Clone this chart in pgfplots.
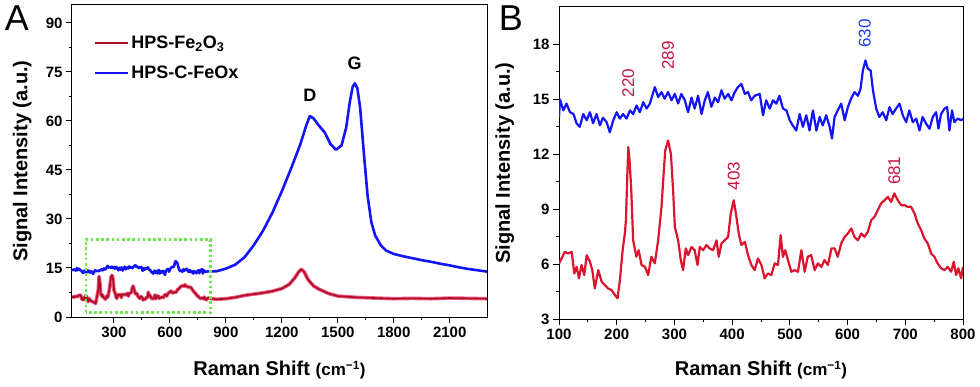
\documentclass[border=0pt]{standalone}
\usepackage{fontspec}
\setmainfont{Liberation Sans}
\usepackage{pgfplots}
\pgfplotsset{compat=1.18}
\usepackage{pgfplotstable}

\definecolor{cblue}{RGB}{20,20,250}
\definecolor{cred}{RGB}{175,15,40}
\definecolor{chalo}{RGB}{240,90,130}
\definecolor{bred}{RGB}{220,20,45}
\definecolor{lblred}{RGB}{200,20,60}
\definecolor{lblblue}{RGB}{30,60,240}
\definecolor{cgreen}{RGB}{110,230,80}

% panel B data (also used for 100-800 in panel A)
\pgfplotstableread{
x y
100 6.04
101.7 6.13
110 6.67
116 6.58
122 6.67
126.5 5.49
130.6 5.85
134.6 5.22
139 5.95
143.8 5.4
148 6.49
153.6 6.13
157.7 5.67
162 4.67
168 5.67
174 5.03
179.6 4.85
185 4.67
191 4.58
197 4.31
201.5 4.13
205.5 5.13
210 6.67
214 7.67
216 8.4
218 10.5
220 12.4
222 11.8
225 10.2
228.5 7.3
234 6.4
238 6.76
243 5.95
249 5.85
254.5 5.4
260 6.4
266 6.04
271.8 7.3
277.6 9.13
281 10.8
284 12.2
289 12.76
294 12.0
298 9.85
300.7 8.03
306.4 7.3
311 6.22
315 5.67
319.7 6.86
323.7 6.49
329.6 6.94
335 6.76
340 5.95
344 6.94
349.7 6.76
355.5 7.04
361 6.86
367 6.76
373 7.3
376.8 6.4
381.5 7.13
387 7.3
393 7.49
397.6 8.77
402.8 9.49
407.4 8.58
411.4 7.67
416 7.04
422 7.22
427.5 6.49
433.4 5.95
439 5.67
444.8 6.31
450.7 5.95
456.4 5.22
462 5.49
468 5.4
473.7 6.04
479.4 5.95
484 7.58
488 6.4
492 6.76
496.7 6.22
502.6 5.58
508.3 5.67
514 5.58
520 6.76
525.6 5.58
531 6.4
537 6.49
543 5.67
548.6 6.04
554.5 5.85
560 6.22
566 5.95
572 6.86
577.5 6.86
583 6.4
589 7.13
595 7.49
600.5 7.67
606.4 7.95
612 7.49
618 7.3
623.7 7.67
629.4 7.49
635 7.76
641 8.4
646.7 8.58
652.4 8.95
658 9.31
664 9.49
669.7 9.67
675.6 9.4
681 9.86
687 9.49
693 9.22
698.6 9.22
704 9.13
710 9.13
716 8.77
721.6 8.22
727.5 7.86
733 7.4
739 7.13
744.8 6.58
750.5 6.4
756 6.04
762 5.77
768 5.67
773.5 5.85
779.4 5.58
784 6.13
788 5.4
792 5.77
796.7 5.22
800 5.85
}\redB

\pgfplotstableread{
x y
100 14.0
101.7 15.0
107.5 14.4
113 14.77
119 14.3
125 14.2
130.6 13.68
136 13.5
142 14.2
148 13.86
153.6 14.3
159 13.7
165 14.2
171 13.58
176 14.0
182.5 13.76
188 13.2
194 13.86
200 14.3
205.5 13.95
211 14.2
217 13.95
223 14.4
228.5 14.2
234.5 14.67
240 14.3
246 14.85
251.7 14.5
257.4 14.77
266 15.67
271.8 15.13
277.6 15.4
283 15.04
289 15.4
295 14.95
300.7 15.3
306.4 14.78
312 15.3
318 14.95
323.6 14.3
329.6 15.1
335 14.5
341 15.2
347 14.2
352.6 14.95
358 15.4
364 14.6
370 15.1
375.6 14.85
381.5 15.5
387 15.04
393 15.3
398.8 14.95
404.5 15.4
410 15.67
416 15.85
422 15.3
427.5 15.4
433 14.95
439 15.2
447.8 15.3
453.5 14.13
459 14.95
465 14.5
470.8 14.95
476.6 14.77
482 15.2
488 14.5
494 14.4
499.7 13.86
505 13.58
511 13.3
517 14.2
522.6 13.5
528.5 14.13
534 13.3
540 14.4
546 13.3
551.6 14.04
557 13.58
563 14.13
569 13.5
573 12.86
577.5 14.04
583 14.4
589 14.77
595 13.86
600.5 14.58
606 15.04
612 15.4
618 15.2
622.5 15.58
626.5 16.58
631 17.13
635 16.68
640 16.58
644 15.5
649.6 14.5
655 14.04
661 14.3
667 13.86
672.6 14.58
678 14.2
684 14.5
690 14.77
695.7 14.13
701.5 13.76
707 14.4
713 13.76
719 13.95
724.6 13.3
730 14.04
736 13.68
742 13.4
747.6 14.04
753.5 14.3
757.4 13.4
762 14.2
768 14.5
772.5 14.58
776.5 13.3
781 14.4
785 13.76
791 13.95
797 13.86
800 13.95
}\blueB

% panel A, outside 100-800
\pgfplotstableread{
x y
75 6.3
85 6.0
92 6.4
100 6.04
}\redAlo
\pgfplotstableread{
x y
800 5.85
850 5.4
900 5.6
950 6.0
1000 6.6
1050 7.0
1100 7.4
1150 7.9
1200 8.7
1240 10.0
1270 12.0
1290 13.8
1305 14.6
1320 13.8
1340 11.5
1370 9.5
1400 8.5
1450 7.2
1500 6.4
1600 6.0
1700 5.8
1800 5.6
1900 5.7
2000 5.6
2100 5.8
2200 5.7
2300 5.6
}\redAhi
\pgfplotstableread{
x y
75 14.3
88 14.6
100 14.0
}\blueAlo
\pgfplotstableread{
x y
800 13.95
850 14.0
900 14.8
950 16.0
1000 18.3
1050 22.0
1100 26.5
1150 32.0
1200 38.5
1250 45.5
1300 53.0
1330 58.5
1350 61.5
1370 60.8
1400 58.5
1430 56.5
1460 53.0
1490 51.2
1520 52.5
1545 58.0
1565 66.0
1580 70.5
1592 71.5
1605 70.0
1620 64.0
1640 50.0
1660 37.0
1680 29.0
1700 25.0
1730 22.0
1760 20.3
1800 19.3
1850 18.6
1900 18.0
1950 17.4
2000 16.9
2050 16.3
2100 15.8
2150 15.2
2200 14.7
2250 14.3
2300 13.9
}\blueAhi

\pgfplotsset{
  panel/.style={
    scale only axis,
    axis line style={line width=1pt},
    every tick/.style={line width=1pt, black},
    tick align=outside, xtick pos=bottom, ytick pos=left,
    major tick length=6pt, minor tick length=3pt,
    minor x tick num=1, minor y tick num=1,
    /pgf/number format/assume math mode=true,
    /pgf/number format/set thousands separator={},
    ticklabel style={font=\bfseries\fontsize{15}{15}\selectfont},
    xlabel style={font=\bfseries\fontsize{20}{20}\selectfont, anchor=center},
    ylabel style={font=\bfseries\fontsize{20}{20}\selectfont, anchor=center},
  },
}

\begin{document}
\begin{tikzpicture}
\useasboundingbox (0pt,0pt) rectangle (980pt,386pt);

\begin{axis}[panel,
  at={(72pt,69pt)}, anchor=south west, width=415pt, height=312pt,
  xmin=75, xmax=2300, ymin=0, ymax=95.5,
  xtick={300,600,...,2100}, ytick={0,15,...,90},
  xlabel={Raman Shift {\fontsize{17}{17}\selectfont(cm\textsuperscript{−1})}},
  ylabel={Signal Intensity (a.u.)},
  xlabel style={at={(axis description cs:0.5,-0.17)}},
  ylabel style={at={(axis description cs:-0.12,0.5)}},
  legend style={draw=none, fill=none, at={(0.045,0.915)}, anchor=north west,
    font=\bfseries\fontsize{18}{18}\selectfont, row sep=12pt,
    legend cell align=left},
  legend image code/.code={\draw[#1, line width=2.4pt] (0pt,0pt) -- (33pt,0pt);},
]
\addlegendimage{cred}
\addlegendentry{HPS-Fe\textsubscript{2}O\textsubscript{3}}
\addlegendimage{cblue}
\addlegendentry{HPS-C-FeOx}
% red, halo then core
\addplot[chalo, line width=3.6pt, line join=round, forget plot] table {\redAlo};
\addplot[chalo, line width=3.6pt, line join=round, forget plot] table {\redB};
\addplot[chalo, line width=3.6pt, line join=round, forget plot] table {\redAhi};
\addplot[cred, line width=1.7pt, line join=round, forget plot] table {\redAlo};
\addplot[cred, line width=1.7pt, line join=round, forget plot] table {\redB};
\addplot[cred, line width=1.7pt, line join=round, forget plot] table {\redAhi};
% blue
\addplot[cblue, line width=2.6pt, line join=round, forget plot] table {\blueAlo};
\addplot[cblue, line width=2.6pt, line join=round, forget plot] table {\blueB};
\addplot[cblue, line width=2.6pt, line join=round, forget plot] table {\blueAhi};
% zoom box
\draw[cgreen, line width=2.6pt, dash pattern=on 2.6pt off 2.6pt]
  (axis cs:150,1.4) rectangle (axis cs:818,23.8);
\node[font=\bfseries\fontsize{18}{18}\selectfont] at (axis cs:1350,68) {D};
\node[font=\bfseries\fontsize{18}{18}\selectfont] at (axis cs:1590,77.8) {G};
\end{axis}

\begin{axis}[panel,
  at={(559pt,67pt)}, anchor=south west, width=404pt, height=312pt,
  xmin=100, xmax=800, ymin=3, ymax=20.05,
  xtick={100,200,...,800}, ytick={3,6,...,18},
  xlabel={Raman Shift {\fontsize{17}{17}\selectfont(cm\textsuperscript{−1})}},
  ylabel={Signal Intensity (a.u.)},
  xlabel style={at={(axis description cs:0.5,-0.163)}},
  ylabel style={at={(axis description cs:-0.134,0.5)}},
]
\addplot[bred, line width=2.2pt, line join=round] table {\redB};
\addplot[cblue, line width=2.2pt, line join=round] table {\blueB};
\begin{scope}[font=\fontsize{17}{17}\selectfont]
\node[rotate=90, text=lblred] at (axis cs:220,15.9) {220};
\node[rotate=90, text=lblred] at (axis cs:289,17.4) {289};
\node[rotate=90, text=lblred] at (axis cs:403,10.8) {403};
\node[rotate=90, text=lblred] at (axis cs:681,11.1) {681};
\node[rotate=90, text=lblblue] at (axis cs:630,18.6) {630};
\end{scope}
\end{axis}

\node[font=\fontsize{36}{36}\selectfont] at (17pt,368pt) {A};
\node[font=\fontsize{36}{36}\selectfont] at (511pt,368pt) {B};
\end{tikzpicture}
\end{document}
